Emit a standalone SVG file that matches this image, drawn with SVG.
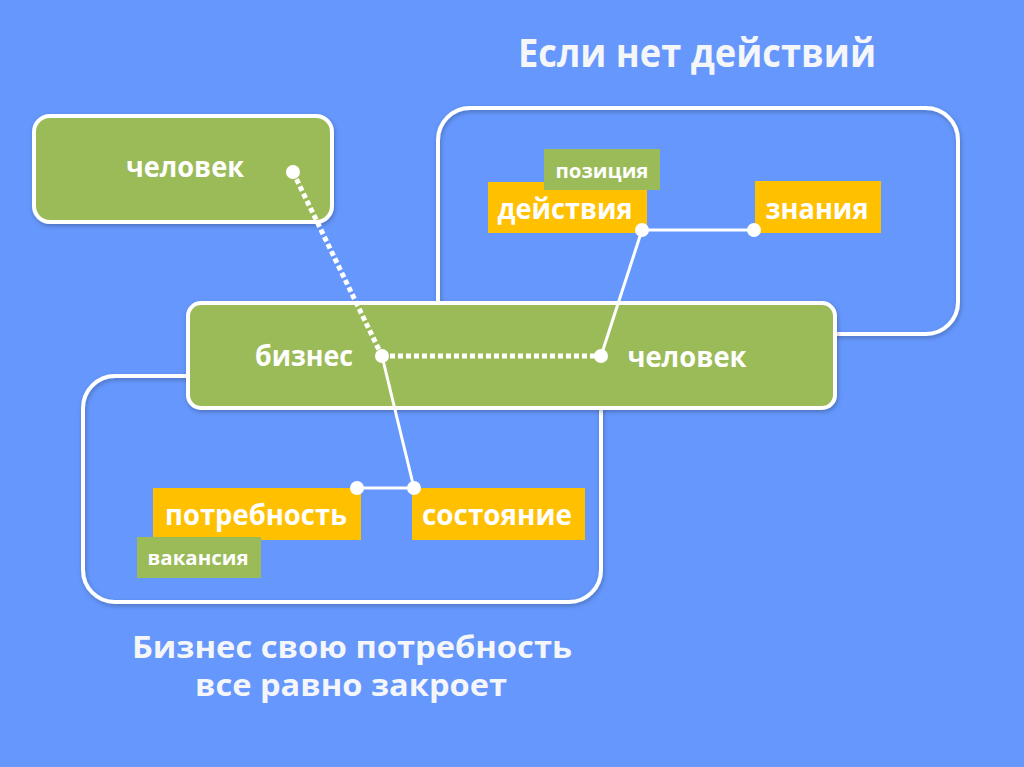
<svg xmlns="http://www.w3.org/2000/svg" width="1024" height="767" viewBox="0 0 1024 767">
<defs>
<filter id="sh" x="-10%" y="-10%" width="120%" height="130%">
<feDropShadow dx="1" dy="2" stdDeviation="2" flood-color="#000" flood-opacity="0.25"/>
</filter>
</defs>
<style>
.t{font-family:"Open Sans","Noto Sans","DejaVu Sans",sans-serif;font-weight:700;fill:#FFFFFF;text-anchor:middle}
.h{font-family:"Open Sans","Noto Sans","DejaVu Sans",sans-serif;font-weight:700;fill:#F4F6FA;text-anchor:middle}
.frame{fill:none;stroke:#FFFFFF;stroke-width:4;filter:url(#sh)}
.gbox{fill:#9BBB59;stroke:#FFFFFF;stroke-width:4;filter:url(#sh)}
.org{fill:#FFC000}
.grn{fill:#9BBB59}
.sol{stroke:#FFFFFF;stroke-width:3;fill:none}
.dot{stroke:#FFFFFF;stroke-width:5;stroke-dasharray:5 3;fill:none}
.pt{fill:#FFFFFF}
</style>
<rect x="0" y="0" width="1024" height="767" fill="#6597FC"/>
<text class="h" x="697" y="67" font-size="39" textLength="358" lengthAdjust="spacingAndGlyphs">Если нет действий</text>
<g id="frame-right"><rect class="frame" x="438" y="108" width="520" height="226" rx="32"/></g>
<g id="frame-left"><rect class="frame" x="83" y="376" width="518" height="226" rx="32"/></g>
<g id="node-human-top"><rect class="gbox" x="34" y="116" width="298" height="106" rx="16"/>
<text class="t" x="185" y="177" font-size="28" textLength="118" lengthAdjust="spacingAndGlyphs">человек</text></g>
<g id="node-middle"><rect class="gbox" x="188" y="303" width="647" height="105" rx="13"/>
<text class="t" x="304" y="366" font-size="28" textLength="98" lengthAdjust="spacingAndGlyphs">бизнес</text>
<text class="t" x="687" y="367" font-size="28" textLength="119" lengthAdjust="spacingAndGlyphs">человек</text></g>
<g id="node-actions"><rect class="org" x="488" y="182" width="159" height="51"/>
<text class="t" x="565" y="219" font-size="28" textLength="135" lengthAdjust="spacingAndGlyphs">действия</text></g>
<g id="node-position"><rect class="grn" x="544" y="149" width="116" height="41"/>
<text class="t" x="602" y="178" font-size="20" textLength="93" lengthAdjust="spacingAndGlyphs">позиция</text></g>
<g id="node-knowledge"><rect class="org" x="755" y="181" width="126" height="52"/>
<text class="t" x="817" y="219" font-size="28" textLength="103" lengthAdjust="spacingAndGlyphs">знания</text></g>
<g id="node-need"><rect class="org" x="153" y="488" width="208" height="52"/>
<text class="t" x="256" y="525" font-size="28" textLength="182" lengthAdjust="spacingAndGlyphs">потребность</text></g>
<g id="node-vacancy"><rect class="grn" x="137" y="537" width="124" height="41"/>
<text class="t" x="198" y="565" font-size="20" textLength="101" lengthAdjust="spacingAndGlyphs">вакансия</text></g>
<g id="node-state"><rect class="org" x="412" y="488" width="173" height="52"/>
<text class="t" x="497" y="525" font-size="28" textLength="150" lengthAdjust="spacingAndGlyphs">состояние</text></g>
<g id="connectors">
<line class="dot" x1="293" y1="172" x2="382" y2="356"/>
<line class="dot" x1="382" y1="356" x2="601" y2="356"/>
<line class="sol" x1="382" y1="356" x2="414" y2="488"/>
<line class="sol" x1="357" y1="488" x2="414" y2="488"/>
<line class="sol" x1="601" y1="356" x2="642" y2="230"/>
<line class="sol" x1="642" y1="230" x2="754" y2="230"/>
<circle class="pt" cx="293" cy="172" r="7"/>
<circle class="pt" cx="382" cy="356" r="7"/>
<circle class="pt" cx="601" cy="356" r="7"/>
<circle class="pt" cx="642" cy="230" r="7"/>
<circle class="pt" cx="754" cy="230" r="7"/>
<circle class="pt" cx="357" cy="488" r="7"/>
<circle class="pt" cx="414" cy="488" r="7"/>
</g>
<text class="h" x="352" y="658" font-size="31" textLength="440" lengthAdjust="spacingAndGlyphs">Бизнес свою потребность</text>
<text class="h" x="351" y="696" font-size="31" textLength="312" lengthAdjust="spacingAndGlyphs">все равно закроет</text>
</svg>
